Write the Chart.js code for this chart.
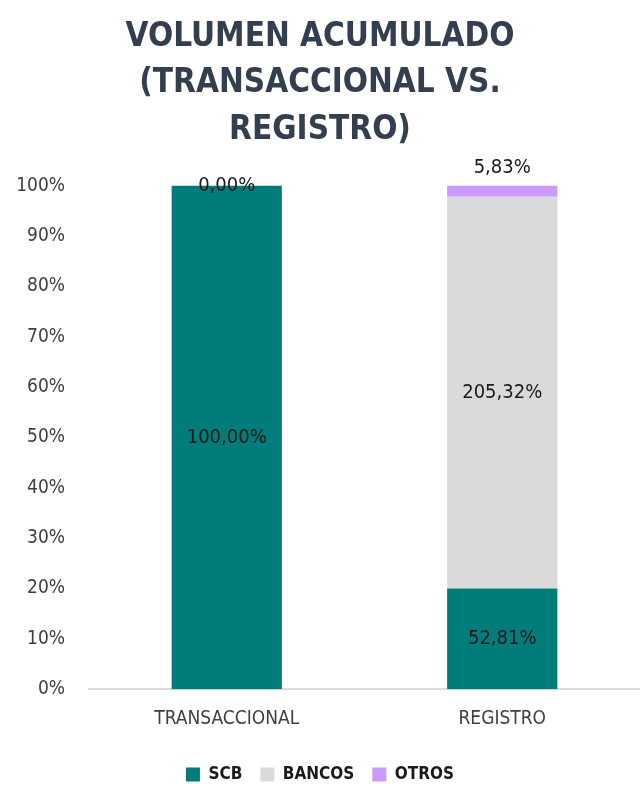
<!DOCTYPE html>
<html>
<head>
<meta charset="utf-8">
<script src="https://cdn.jsdelivr.net/npm/chart.js@4"></script>
<style>
  html, body { margin: 0; padding: 0; background: #fff; }
  #wrap { width: 640px; height: 787px; }
</style>
</head>
<body>
<div id="wrap"><canvas id="myChart" width="640" height="787"></canvas></div>
<script>
const categories = ["TRANSACCIONAL", "REGISTRO"];
const scbValues = [100.0, 52.81];
const bancosValues = [null, 205.32];
const otrosValues = [0.0, 5.83];

const fontFamily = "'Liberation Sans Narrow', 'DejaVu Sans Condensed', 'Liberation Sans', sans-serif";

// each bar is drawn as share of its own total (100% stacked)
const totals = categories.map((_, i) =>
  (scbValues[i] || 0) + (bancosValues[i] || 0) + (otrosValues[i] || 0)
);
const toShare = (arr) => arr.map((v, i) => (v === null ? null : (v / totals[i]) * 100));

const fmt = (v) => v.toFixed(2).replace(".", ",") + "%";

// draws the raw values as labels, like the excel data labels
const valueLabels = {
  id: "valueLabels",
  afterDatasetsDraw(chart) {
    const ctx = chart.ctx;
    ctx.save();
    ctx.font = "20px " + fontFamily;
    ctx.fillStyle = "#1a1a1a";
    ctx.textAlign = "center";
    ctx.textBaseline = "middle";
    chart.data.datasets.forEach((ds, di) => {
      const meta = chart.getDatasetMeta(di);
      meta.data.forEach((bar, i) => {
        const raw = ds.rawValues[i];
        if (raw === null || raw === undefined) return;
        const top = Math.min(bar.y, bar.base);
        const h = Math.abs(bar.base - bar.y);
        let y = top + h / 2;
        if (ds.label === "OTROS" && h > 2) y = top - 18;
        ctx.fillText(fmt(raw), bar.x, y);
      });
    });
    ctx.restore();
  },
};

const config = {
  type: "bar",
  data: {
    labels: categories,
    datasets: [
      {
        label: "SCB",
        data: toShare(scbValues),
        rawValues: scbValues,
        backgroundColor: "#007d7a",
      },
      {
        label: "BANCOS",
        data: toShare(bancosValues),
        rawValues: bancosValues,
        backgroundColor: "#dadada",
      },
      {
        label: "OTROS",
        data: toShare(otrosValues),
        rawValues: otrosValues,
        backgroundColor: "#cc99ff",
      },
    ],
  },
  options: {
    responsive: false,
    animation: false,
    layout: {
      padding: { left: 0, right: 0, top: 4, bottom: -6 },
    },
    datasets: {
      bar: {
        barPercentage: 0.4,
        categoryPercentage: 1.0,
      },
    },
    plugins: {
      title: {
        display: true,
        text: ["VOLUMEN ACUMULADO", "(TRANSACCIONAL VS.", "REGISTRO)"],
        color: "#333f50",
        font: { family: fontFamily, size: 33, weight: "bold", lineHeight: 1.41 },
        padding: { top: 10, bottom: 32 },
      },
      legend: {
        position: "bottom",
        labels: {
          color: "#1a1a1a",
          font: { family: fontFamily, size: 17, weight: "bold" },
          boxWidth: 14,
          boxHeight: 14,
          padding: 18,
        },
      },
      tooltip: { enabled: false },
    },
    scales: {
      x: {
        stacked: true,
        grid: { display: false },
        border: { color: "#d9d9d9", width: 2 },
        ticks: {
          color: "#404040",
          font: { family: fontFamily, size: 19 },
          padding: 10,
        },
        afterFit: (axis) => {
          axis.height += 8;
        },
      },
      y: {
        stacked: true,
        min: 0,
        max: 100,
        grid: { display: false, drawTicks: false },
        border: { display: false },
        ticks: {
          stepSize: 10,
          color: "#404040",
          font: { family: fontFamily, size: 19 },
          padding: 24,
          callback: (v) => v + "%",
        },
        afterFit: (axis) => {
          axis.width = 89;
        },
      },
    },
  },
  plugins: [valueLabels],
};

const chart = new Chart(document.getElementById("myChart"), config);
</script>
</body>
</html>
